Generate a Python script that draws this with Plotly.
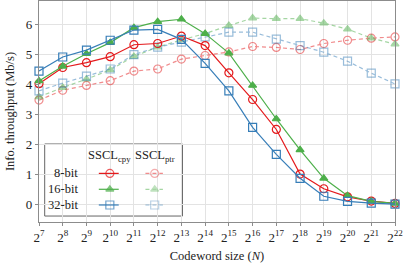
import plotly.graph_objects as go

log2_n = list(range(7, 23))
tick_labels = [f"2<sup>{k}</sup>" for k in log2_n]

cpy_8 = [4.03, 4.57, 4.73, 4.93, 5.33, 5.37, 5.62, 5.30, 4.39, 3.50, 2.50, 1.01, 0.52, 0.25, 0.11, 0.03]
cpy_16 = [4.12, 4.61, 5.03, 5.40, 5.90, 6.10, 6.18, 5.70, 5.05, 3.97, 2.85, 1.82, 0.87, 0.29, 0.10, 0.03]
cpy_32 = [4.45, 4.92, 5.15, 5.48, 5.82, 5.84, 5.51, 4.71, 3.79, 2.57, 1.67, 0.87, 0.27, 0.10, 0.04, 0.01]
ptr_8 = [3.48, 3.81, 3.97, 4.13, 4.45, 4.52, 4.85, 4.97, 5.09, 5.27, 5.24, 5.17, 5.37, 5.48, 5.55, 5.59]
ptr_16 = [3.59, 3.90, 4.18, 4.49, 4.94, 5.25, 5.49, 5.70, 5.97, 6.22, 6.20, 6.20, 6.05, 5.85, 5.55, 5.35]
ptr_32 = [3.79, 4.05, 4.28, 4.52, 5.00, 5.25, 5.42, 5.59, 5.75, 5.75, 5.52, 5.30, 5.08, 4.78, 4.38, 4.02]

row_labels = ["8-bit", "16-bit", "32-bit"]
col_labels = ["SSCL<sub>cpy</sub>", "SSCL<sub>ptr</sub>"]

RED, GREEN, BLUE = "#e41a1c", "#4daf4a", "#377eb8"
styles = [(RED, "circle-open", 8), (GREEN, "triangle-up", 7), (BLUE, "square-open", 8)]
FONT = "Liberation Serif"

fig = go.Figure()
for (color, sym, sz), ys in zip(styles, [ptr_8, ptr_16, ptr_32]):
    fig.add_trace(go.Scatter(x=log2_n, y=ys, mode="lines+markers", cliponaxis=False,
                             opacity=0.5,
                             line=dict(color=color, width=1.2, dash="4px,3px"),
                             marker=dict(symbol=sym, size=sz, color=color, line=dict(color=color, width=1.2)),
                             showlegend=False))
for (color, sym, sz), ys in zip(styles, [cpy_8, cpy_16, cpy_32]):
    fig.add_trace(go.Scatter(x=log2_n, y=ys, mode="lines+markers", cliponaxis=False,
                             line=dict(color=color, width=1.2),
                             marker=dict(symbol=sym, size=sz, color=color, line=dict(color=color, width=1.2)),
                             showlegend=False))

# Custom table legend on an overlay axis (0..1)
box = dict(x0=0.016, x1=0.403, y0=0.027, y1=0.353)
fig.add_shape(type="rect", xref="paper", yref="paper", **box,
              line=dict(color="#666666", width=1), fillcolor="white", layer="between")
row_v = [0.220, 0.148, 0.077]
col_u = [(0.168, 0.199, 0.224), (0.299, 0.325, 0.348)]
for ci, (u0, um, u1) in enumerate(col_u):
    for ri, (color, sym, sz) in enumerate(styles):
        fig.add_trace(go.Scatter(x=[u0, um, u1], y=[row_v[ri]] * 3, xaxis="x2", yaxis="y2",
                                 mode="lines+markers", cliponaxis=False,
                                 opacity=1 if ci == 0 else 0.5,
                                 line=dict(color=color, width=1.2, dash="solid" if ci == 0 else "4px,3px"),
                                 marker=dict(symbol=sym, size=[0, sz, 0], color=color,
                                             line=dict(color=color, width=1.2)),
                                 showlegend=False, hoverinfo="skip"))
    fig.add_annotation(x=um, y=0.299, xref="paper", yref="paper", text=col_labels[ci], showarrow=False,
                       xanchor="center", yanchor="middle",
                       font=dict(family=FONT, size=12.5, color="#222"))
for ri, lab in enumerate(row_labels):
    fig.add_annotation(x=0.114, y=row_v[ri], xref="paper", yref="paper", text=lab, showarrow=False,
                       xanchor="right", yanchor="middle", font=dict(family=FONT, size=12.5, color="#222"))

axis_common = dict(showline=True, linecolor="#8c8c8c", linewidth=1.3, mirror=True,
                   gridcolor="#e3e3e3", gridwidth=1, zeroline=False,
                   ticks="outside", ticklen=3, tickcolor="#8c8c8c",
                   tickfont=dict(family=FONT, size=13, color="#222"))
fig.update_layout(
    width=407, height=266,
    margin=dict(l=39, r=12, t=1, b=44),
    plot_bgcolor="white", paper_bgcolor="white",
    font=dict(family=FONT, size=12, color="#222"),
    xaxis=dict(range=[7, 22], tickvals=log2_n, ticktext=tick_labels,
               title=dict(text="Codeword size (<i>N</i>)", standoff=7,
                          font=dict(family=FONT, size=12.5)), **axis_common),
    yaxis=dict(range=[-0.59, 6.79], tickvals=[0, 1, 2, 3, 4, 5, 6],
               title=dict(text="Info. throughput (Mb/s)", standoff=8,
                          font=dict(family=FONT, size=12.5)), **axis_common),
    xaxis2=dict(overlaying="x", range=[0, 1], visible=False, fixedrange=True),
    yaxis2=dict(overlaying="y", range=[0, 1], visible=False, fixedrange=True),
)
fig.write_html("out.html", config={"displayModeBar": False},
               post_script="document.body.style.margin='0';")
